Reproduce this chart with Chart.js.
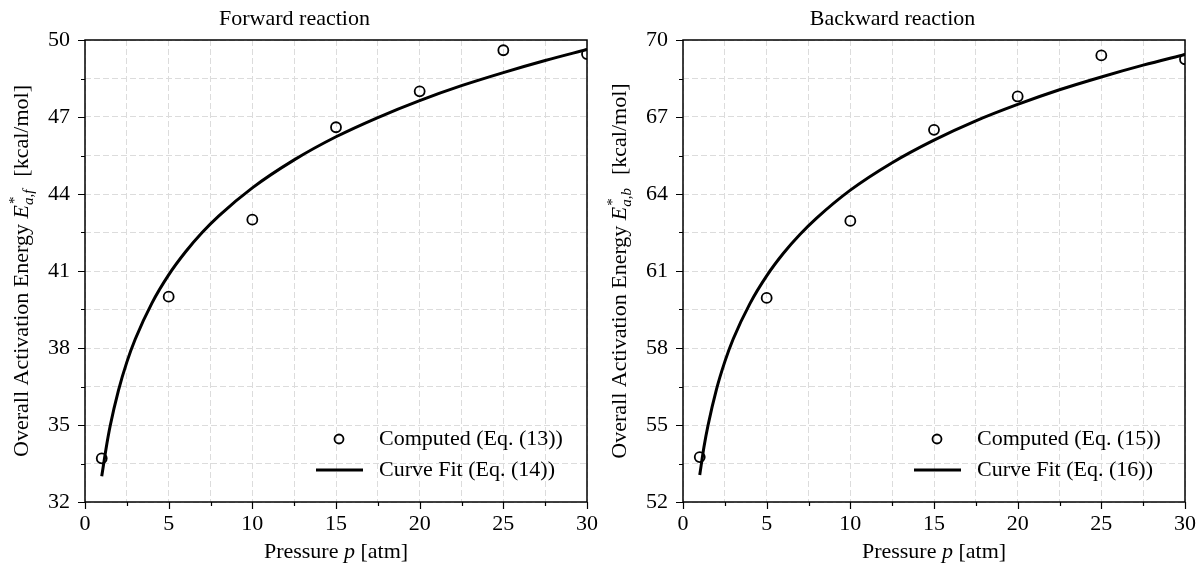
<!DOCTYPE html>
<html>
<head>
<meta charset="utf-8">
<script src="https://cdn.jsdelivr.net/npm/chart.js@4.4.0/dist/chart.umd.min.js"></script>
<style>
  html, body { margin: 0; padding: 0; background: #fff; overflow: hidden; }
  .panel { position: absolute; top: 0; width: 600px; height: 568px; }
  #left { left: 0; }
  #right { left: 598px; }
</style>
</head>
<body>
<div class="panel" id="left"><canvas id="fwdChart"></canvas></div>
<div class="panel" id="right"><canvas id="bwdChart"></canvas></div>
<script>
// ---- data ----
const pressures = [1, 5, 10, 15, 20, 25, 30];
const computedForward = [33.7, 40.0, 43.0, 46.6, 48.0, 49.6, 49.45];
const computedBackward = [53.75, 59.95, 62.95, 66.5, 67.8, 69.4, 69.25];

const fitPressures = [1, 1.25, 1.5, 2, 2.5, 3, 4, 5, 6, 7, 8, 10, 12.5, 15, 17.5, 20, 22.5, 25, 27.5, 30];
const fitForward = [33.0, 34.05, 34.95, 36.35, 37.45, 38.34, 39.75, 40.85, 41.74, 42.5, 43.15, 44.24, 45.33, 46.23, 46.98, 47.64, 48.22, 48.73, 49.2, 49.63];
const fitBackward = [53.05, 54.13, 55.0, 56.39, 57.47, 58.35, 59.73, 60.81, 61.69, 62.43, 63.07, 64.15, 65.22, 66.1, 66.85, 67.49, 68.06, 68.56, 69.02, 69.44];

const xTickLabels = [0, 5, 10, 15, 20, 25, 30];
const yTicksForward = [32, 35, 38, 41, 44, 47, 50];
const yTicksBackward = [52, 55, 58, 61, 64, 67, 70];

const FONT = '"Liberation Serif", "Times New Roman", serif';
const FS = 22;
const GRID = '#dcdcdc';

const isMajor = (v, list) => list.some(t => Math.abs(t - v) < 1e-6);

// ticks, frame, axis titles and in-plot legend
const decorPlugin = {
    id: 'decor',
    afterDraw(chart, args, opts) {
        const { ctx, chartArea: a, scales: { x, y } } = chart;
        ctx.save();
        ctx.strokeStyle = '#000';
        ctx.fillStyle = '#000';

        // tick marks (major / minor)
        ctx.lineWidth = 1.2;
        ctx.beginPath();
        x.ticks.forEach(t => {
            const px = Math.round(x.getPixelForValue(t.value)) + 0.5;
            const len = isMajor(t.value, opts.xMajor) ? 7 : 4;
            ctx.moveTo(px, a.bottom);
            ctx.lineTo(px, a.bottom + len);
        });
        y.ticks.forEach(t => {
            const py = Math.round(y.getPixelForValue(t.value)) + 0.5;
            const len = isMajor(t.value, opts.yMajor) ? 7 : 4;
            ctx.moveTo(a.left, py);
            ctx.lineTo(a.left - len, py);
        });
        ctx.stroke();

        // frame
        ctx.lineWidth = 1.5;
        ctx.strokeRect(a.left, a.top, a.right - a.left, a.bottom - a.top);

        // x title: Pressure p [atm]
        const xc = (a.left + a.right) / 2;
        const parts = [['Pressure ', ''], ['p', 'italic '], [' [atm]', '']];
        let total = 0;
        parts.forEach(p => { ctx.font = `${p[1]}${FS}px ${FONT}`; total += ctx.measureText(p[0]).width; });
        let cx = xc - total / 2;
        ctx.textBaseline = 'alphabetic';
        ctx.textAlign = 'left';
        parts.forEach(p => {
            ctx.font = `${p[1]}${FS}px ${FONT}`;
            ctx.fillText(p[0], cx, 558);
            cx += ctx.measureText(p[0]).width;
        });

        // y title: Overall Activation Energy E*_{a,?} [kcal/mol]
        ctx.save();
        ctx.translate(28, (a.top + a.bottom) / 2);
        ctx.rotate(-Math.PI / 2);
        const small = 15;
        ctx.font = `${FS}px ${FONT}`;
        const w1 = ctx.measureText('Overall Activation Energy ').width;
        const w3 = ctx.measureText('  [kcal/mol]').width;
        ctx.font = `italic ${FS}px ${FONT}`;
        const wE = ctx.measureText('E').width;
        ctx.font = `italic ${small}px ${FONT}`;
        const wSub = ctx.measureText(opts.sub).width;
        ctx.font = `${small}px ${FONT}`;
        const wStar = ctx.measureText('*').width;
        const wScript = Math.max(wSub, wStar) + 2;
        let tx = -(w1 + wE + wScript + w3) / 2;
        ctx.font = `${FS}px ${FONT}`;
        ctx.fillText('Overall Activation Energy ', tx, 0);
        tx += w1;
        ctx.font = `italic ${FS}px ${FONT}`;
        ctx.fillText('E', tx, 0);
        tx += wE;
        ctx.font = `${small}px ${FONT}`;
        ctx.fillText('*', tx + 1, -9);
        ctx.font = `italic ${small}px ${FONT}`;
        ctx.fillText(opts.sub, tx, 5);
        tx += wScript;
        ctx.font = `${FS}px ${FONT}`;
        ctx.fillText('  [kcal/mol]', tx, 0);
        ctx.restore();

        // legend (inside, lower right)
        const ds = chart.data.datasets;
        const rows = [a.bottom - 63, a.bottom - 32];
        const mx = a.right - 248;
        ds.forEach((d, i) => {
            const ry = rows[i];
            if (d.showLine) {
                ctx.lineWidth = 3;
                ctx.beginPath();
                ctx.moveTo(mx - 23, ry);
                ctx.lineTo(mx + 24, ry);
                ctx.stroke();
            } else {
                ctx.lineWidth = 1.8;
                ctx.beginPath();
                ctx.arc(mx, ry, 4.5, 0, Math.PI * 2);
                ctx.stroke();
            }
            ctx.font = `${FS}px ${FONT}`;
            ctx.textBaseline = 'middle';
            ctx.fillText(d.label, mx + 40, ry);
        });
        ctx.restore();
    }
};

function makeChart(id, cfg) {
    const ctx = document.getElementById(id).getContext('2d');
    return new Chart(ctx, {
        type: 'scatter',
        data: {
            datasets: [
                {
                    label: cfg.pointLabel,
                    data: pressures.map((p, i) => ({ x: p, y: cfg.computed[i] })),
                    pointRadius: 5,
                    pointHoverRadius: 5,
                    pointBorderWidth: 1.8,
                    pointBorderColor: '#000',
                    pointBackgroundColor: 'rgba(0,0,0,0)',
                    showLine: false,
                    order: 2
                },
                {
                    label: cfg.fitLabel,
                    data: fitPressures.map((p, i) => ({ x: p, y: cfg.fit[i] })),
                    showLine: true,
                    borderColor: '#000',
                    borderWidth: 3,
                    pointRadius: 0,
                    cubicInterpolationMode: 'monotone',
                    order: 1
                }
            ]
        },
        options: {
            responsive: true,
            maintainAspectRatio: false,
            animation: false,
            layout: { padding: { left: 0, right: 11, top: 0, bottom: 0 } },
            scales: {
                x: {
                    type: 'linear',
                    min: 0,
                    max: 30,
                    afterFit: s => { s.height = 66; },
                    grid: { color: GRID, lineWidth: 1, tickColor: 'rgba(0,0,0,0)', tickLength: 7 },
                    border: { display: false, dash: [6, 3] },
                    ticks: {
                        stepSize: 2.5,
                        autoSkip: false,
                        maxRotation: 0,
                        padding: 2,
                        color: '#000',
                        font: { family: FONT, size: FS },
                        callback: v => isMajor(v, xTickLabels) ? String(Math.round(v)) : ''
                    }
                },
                y: {
                    type: 'linear',
                    min: cfg.yTicks[0],
                    max: cfg.yTicks[cfg.yTicks.length - 1],
                    afterFit: s => { s.width = 85; },
                    grid: { color: GRID, lineWidth: 1, tickColor: 'rgba(0,0,0,0)', tickLength: 7 },
                    border: { display: false, dash: [6, 3] },
                    ticks: {
                        stepSize: 1.5,
                        autoSkip: false,
                        padding: 8,
                        color: '#000',
                        font: { family: FONT, size: FS },
                        callback: v => isMajor(v, cfg.yTicks) ? String(Math.round(v)) : ''
                    }
                }
            },
            plugins: {
                legend: { display: false },
                tooltip: { enabled: false },
                title: {
                    display: true,
                    text: cfg.title,
                    color: '#000',
                    font: { family: FONT, size: FS, weight: 'normal', lineHeight: 1.2 },
                    padding: { top: 6, bottom: 7.6 }
                },
                decor: { xMajor: xTickLabels, yMajor: cfg.yTicks, sub: cfg.sub }
            }
        },
        plugins: [decorPlugin]
    });
}

makeChart('fwdChart', {
    title: 'Forward reaction',
    computed: computedForward,
    fit: fitForward,
    yTicks: yTicksForward,
    sub: 'a,f',
    pointLabel: 'Computed (Eq. (13))',
    fitLabel: 'Curve Fit (Eq. (14))'
});

makeChart('bwdChart', {
    title: 'Backward reaction',
    computed: computedBackward,
    fit: fitBackward,
    yTicks: yTicksBackward,
    sub: 'a,b',
    pointLabel: 'Computed (Eq. (15))',
    fitLabel: 'Curve Fit (Eq. (16))'
});
</script>
</body>
</html>
